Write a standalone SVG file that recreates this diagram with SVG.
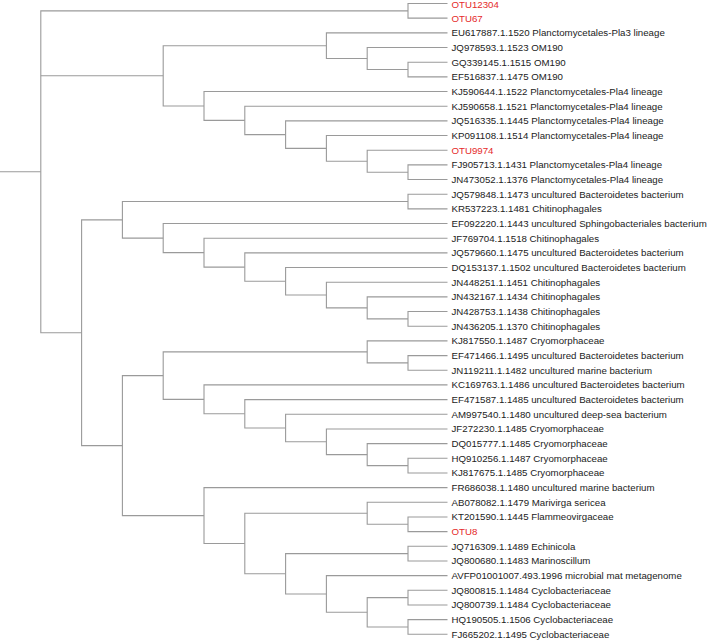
<svg xmlns="http://www.w3.org/2000/svg" width="709" height="640" viewBox="0 0 709 640">
<style>
.e{fill:none;stroke:#9a9a9a;stroke-width:1.1;stroke-linejoin:miter}
text{font-family:"Liberation Sans",Arial,sans-serif;font-size:9.7px;fill:#222}
.r{fill:#e52a2a}
</style>
<rect width="709" height="640" fill="#fff"/>
<g id="connectors" class="e">
<path d="M0,171.8 H40.8"/>
<path d="M408,10.84 H40.8 V332.7 H81.6"/>
<path d="M40.8,75.82 H163.2"/>
<path d="M447.5,3.5 H408 V18.17 H447.5"/>
<path d="M326.4,45.68 H163.2 V105.96 H204"/>
<path d="M447.5,32.84 H326.4 V58.52 H367.2"/>
<path d="M447.5,47.51 H367.2 V69.52 H408"/>
<path d="M447.5,62.18 H408 V76.85 H447.5"/>
<path d="M447.5,91.52 H204 V120.4 H244.8"/>
<path d="M447.5,106.19 H244.8 V134.6 H285.6"/>
<path d="M447.5,120.86 H285.6 V148.37 H326.4"/>
<path d="M447.5,135.53 H326.4 V161.2 H367.2"/>
<path d="M447.5,150.2 H367.2 V172.2 H408"/>
<path d="M447.5,164.87 H408 V179.54 H447.5"/>
<path d="M122.4,219.83 H81.6 V445.6 H122.4"/>
<path d="M408,201.55 H122.4 V238.1 H163.2"/>
<path d="M447.5,194.21 H408 V208.88 H447.5"/>
<path d="M447.5,223.55 H163.2 V252.66 H204"/>
<path d="M447.5,238.22 H204 V267.1 H244.8"/>
<path d="M447.5,252.89 H244.8 V281.31 H285.6"/>
<path d="M447.5,267.56 H285.6 V295.07 H326.4"/>
<path d="M447.5,282.23 H326.4 V307.9 H367.2"/>
<path d="M447.5,296.9 H367.2 V318.9 H408"/>
<path d="M447.5,311.57 H408 V326.24 H447.5"/>
<path d="M163.2,375.63 H122.4 V515.58 H204"/>
<path d="M367.2,351.91 H163.2 V399.36 H204"/>
<path d="M447.5,340.91 H367.2 V362.92 H408"/>
<path d="M447.5,355.58 H408 V370.25 H447.5"/>
<path d="M447.5,384.92 H204 V413.8 H244.8"/>
<path d="M447.5,399.59 H244.8 V428 H285.6"/>
<path d="M447.5,414.26 H285.6 V441.77 H326.4"/>
<path d="M447.5,428.93 H326.4 V454.6 H367.2"/>
<path d="M447.5,443.6 H367.2 V465.6 H408"/>
<path d="M447.5,458.27 H408 V472.94 H447.5"/>
<path d="M447.5,487.61 H204 V543.54 H244.8"/>
<path d="M367.2,513.28 H244.8 V573.8 H285.6"/>
<path d="M447.5,502.28 H367.2 V524.29 H408"/>
<path d="M447.5,516.95 H408 V531.62 H447.5"/>
<path d="M408,553.62 H285.6 V593.97 H326.4"/>
<path d="M447.5,546.29 H408 V560.96 H447.5"/>
<path d="M447.5,575.63 H326.4 V612.3 H367.2"/>
<path d="M408,597.63 H367.2 V626.97 H408"/>
<path d="M447.5,590.3 H408 V604.97 H447.5"/>
<path d="M447.5,619.64 H408 V634.31 H447.5"/>
</g>
<g id="leaves">
<g id="leaf0"><text class="r" x="451.5" y="7.6">OTU12304</text></g>
<g id="leaf1"><text class="r" x="451.5" y="21.6">OTU67</text></g>
<g id="leaf2"><text x="451.5" y="36.2">EU617887.1.1520 Planctomycetales-Pla3 lineage</text></g>
<g id="leaf3"><text x="451.5" y="50.9">JQ978593.1.1523 OM190</text></g>
<g id="leaf4"><text x="451.5" y="65.6">GQ339145.1.1515 OM190</text></g>
<g id="leaf5"><text x="451.5" y="80.3">EF516837.1.1475 OM190</text></g>
<g id="leaf6"><text x="451.5" y="94.9">KJ590644.1.1522 Planctomycetales-Pla4 lineage</text></g>
<g id="leaf7"><text x="451.5" y="109.6">KJ590658.1.1521 Planctomycetales-Pla4 lineage</text></g>
<g id="leaf8"><text x="451.5" y="124.3">JQ516335.1.1445 Planctomycetales-Pla4 lineage</text></g>
<g id="leaf9"><text x="451.5" y="138.9">KP091108.1.1514 Planctomycetales-Pla4 lineage</text></g>
<g id="leaf10"><text class="r" x="451.5" y="153.6">OTU9974</text></g>
<g id="leaf11"><text x="451.5" y="168.3">FJ905713.1.1431 Planctomycetales-Pla4 lineage</text></g>
<g id="leaf12"><text x="451.5" y="182.9">JN473052.1.1376 Planctomycetales-Pla4 lineage</text></g>
<g id="leaf13"><text x="451.5" y="197.6">JQ579848.1.1473 uncultured Bacteroidetes bacterium</text></g>
<g id="leaf14"><text x="451.5" y="212.3">KR537223.1.1481 Chitinophagales</text></g>
<g id="leaf15"><text x="451.5" y="227">EF092220.1.1443 uncultured Sphingobacteriales bacterium</text></g>
<g id="leaf16"><text x="451.5" y="241.6">JF769704.1.1518 Chitinophagales</text></g>
<g id="leaf17"><text x="451.5" y="256.3">JQ579660.1.1475 uncultured Bacteroidetes bacterium</text></g>
<g id="leaf18"><text x="451.5" y="271">DQ153137.1.1502 uncultured Bacteroidetes bacterium</text></g>
<g id="leaf19"><text x="451.5" y="285.6">JN448251.1.1451 Chitinophagales</text></g>
<g id="leaf20"><text x="451.5" y="300.3">JN432167.1.1434 Chitinophagales</text></g>
<g id="leaf21"><text x="451.5" y="315">JN428753.1.1438 Chitinophagales</text></g>
<g id="leaf22"><text x="451.5" y="329.6">JN436205.1.1370 Chitinophagales</text></g>
<g id="leaf23"><text x="451.5" y="344.3">KJ817550.1.1487 Cryomorphaceae</text></g>
<g id="leaf24"><text x="451.5" y="359">EF471466.1.1495 uncultured Bacteroidetes bacterium</text></g>
<g id="leaf25"><text x="451.5" y="373.7">JN119211.1.1482 uncultured marine bacterium</text></g>
<g id="leaf26"><text x="451.5" y="388.3">KC169763.1.1486 uncultured Bacteroidetes bacterium</text></g>
<g id="leaf27"><text x="451.5" y="403">EF471587.1.1485 uncultured Bacteroidetes bacterium</text></g>
<g id="leaf28"><text x="451.5" y="417.7">AM997540.1.1480 uncultured deep-sea bacterium</text></g>
<g id="leaf29"><text x="451.5" y="432.3">JF272230.1.1485 Cryomorphaceae</text></g>
<g id="leaf30"><text x="451.5" y="447">DQ015777.1.1485 Cryomorphaceae</text></g>
<g id="leaf31"><text x="451.5" y="461.7">HQ910256.1.1487 Cryomorphaceae</text></g>
<g id="leaf32"><text x="451.5" y="476.3">KJ817675.1.1485 Cryomorphaceae</text></g>
<g id="leaf33"><text x="451.5" y="491">FR686038.1.1480 uncultured marine bacterium</text></g>
<g id="leaf34"><text x="451.5" y="505.7">AB078082.1.1479 Marivirga sericea</text></g>
<g id="leaf35"><text x="451.5" y="520.4">KT201590.1.1445 Flammeovirgaceae</text></g>
<g id="leaf36"><text class="r" x="451.5" y="535">OTU8</text></g>
<g id="leaf37"><text x="451.5" y="549.7">JQ716309.1.1489 Echinicola</text></g>
<g id="leaf38"><text x="451.5" y="564.4">JQ800680.1.1483 Marinoscillum</text></g>
<g id="leaf39"><text x="451.5" y="579">AVFP01001007.493.1996 microbial mat metagenome</text></g>
<g id="leaf40"><text x="451.5" y="593.7">JQ800815.1.1484 Cyclobacteriaceae</text></g>
<g id="leaf41"><text x="451.5" y="608.4">JQ800739.1.1484 Cyclobacteriaceae</text></g>
<g id="leaf42"><text x="451.5" y="623">HQ190505.1.1506 Cyclobacteriaceae</text></g>
<g id="leaf43"><text x="451.5" y="637.7">FJ665202.1.1495 Cyclobacteriaceae</text></g>
</g>
</svg>
